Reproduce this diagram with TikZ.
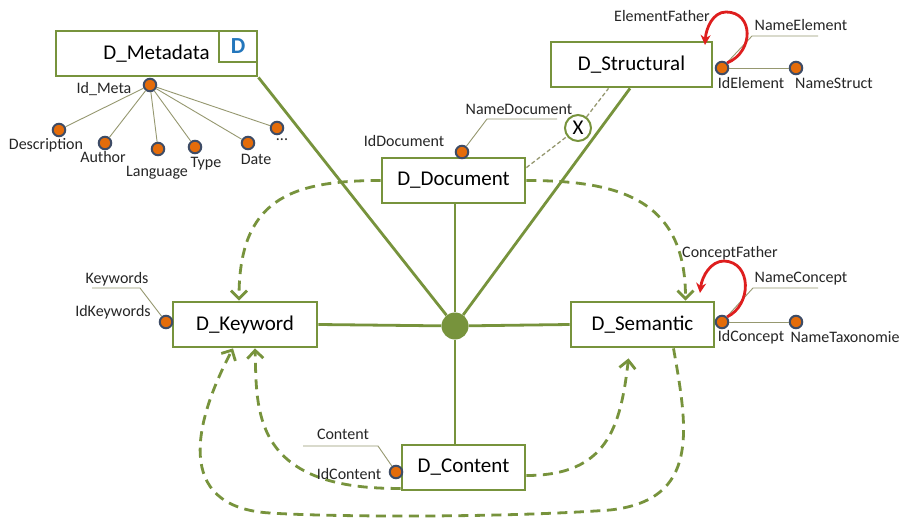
\documentclass[tikz,border=0pt]{standalone}
\usepackage{fontspec}
\setmainfont{Carlito}
\usetikzlibrary{arrows.meta,calc}
\definecolor{grn}{RGB}{119,147,60}
\definecolor{leader}{RGB}{150,152,112}
\definecolor{dotfill}{RGB}{228,108,10}
\definecolor{dotrim}{RGB}{62,76,102}
\definecolor{loopred}{RGB}{222,30,30}
\definecolor{dblue}{RGB}{35,118,188}
\tikzset{
  entity/.style={draw=grn, line width=2.8pt, fill=white, minimum height=45pt,
    inner sep=0pt, font=\fontsize{21}{24}\selectfont},
  lbl/.style={font=\fontsize{16}{18}\selectfont, inner sep=0pt, text=black!85},
  attr/.style={circle, draw=dotrim, line width=2pt, fill=dotfill,
    minimum size=12.5pt, inner sep=0pt},
  link/.style={draw=grn, line width=2.8pt},
  flow/.style={draw=grn, line width=2.8pt, dash pattern=on 10pt off 6.5pt,
    -{Straight Barb[length=8pt,width=16pt]}},
  thinlead/.style={draw=leader, line width=0.9pt},
  selfref/.style={draw=loopred, line width=2.8pt, -{Stealth[length=10pt,width=10pt]}},
}
\begin{document}
\begin{tikzpicture}[x=1pt,y=-1pt]
\fill[white] (0,0) rectangle (901,518);
\useasboundingbox (0,0) rectangle (901,518);

% entity boxes
\node[entity, minimum width=201pt] (meta) at (156.5,53.5) {D\_Metadata};
\node[draw=grn, line width=2.8pt, fill=white, minimum width=38pt, minimum height=31pt,
  inner sep=0pt, text=dblue, font=\fontsize{23}{24}\selectfont\bfseries] (dtag) at (238,46.5) {D};
\node[entity, minimum width=161pt] (struct) at (631.5,64.5) {D\_Structural};
\node[entity, minimum width=143pt] (doc) at (453.5,180.5) {D\_Document};
\node[entity, minimum width=144pt] (kw) at (245,324.5) {D\_Keyword};
\node[entity, minimum width=143pt] (sem) at (642.5,324.5) {D\_Semantic};
\node[entity, minimum width=123pt] (cont) at (463.5,467.5) {D\_Content};

% central hub and its links
\node[circle, fill=grn, minimum size=27pt, inner sep=0pt] (hub) at (455,326) {};
\draw[link] (hub) -- (hub |- doc.south);
\draw[link] (hub) -- (hub |- cont.north);
\draw[link] (hub) -- (kw.east);
\draw[link] (hub) -- (sem.west);
\draw[link] (hub) -- (meta.south east);
\draw[link] (hub) -- ($(struct.south)+(-1.5,0)$);

% dashed flows
\draw[flow] (doc.west) .. controls +(-92,0) and +(0,-100) .. ($(kw.north)+(-6,0)$);
\draw[flow] (doc.east) .. controls +(95,0) and +(0,-100) .. ($(sem.north)+(43,0)$);
\draw[flow] ($(cont.south west)+(0,-3)$) .. controls (250,490) and (257,408) .. ($(kw.south)+(10,0)$);
\draw[flow] ($(cont.east)+(0,8)$) .. controls +(80,0) and +(-8,70) .. ($(sem.south)+(-14,10)$);
\draw[flow] ($(sem.south)+(31,0)$) .. controls (688,430) and (700,500) .. (610,510)
  .. controls (500,518) and (330,517) .. (270,513)
  .. controls (172,507) and (195,420) .. ($(kw.south)+(-12,0)$);

% document / structural association
\node[circle, draw=grn, line width=2pt, fill=white, minimum size=26pt, inner sep=0pt,
  font=\fontsize{21}{22}\selectfont] (xc) at (578,128) {X};
\draw[leader, line width=1.3pt, dash pattern=on 4pt off 2.5pt]
  ($(doc.north east)+(0,11)$) -- (xc);
\draw[leader, line width=1.3pt, dash pattern=on 4pt off 2.5pt]
  (xc) -- ($(struct.south)+(-23,0)$);

% metadata attributes
\node[attr] (idmeta) at (150,85) {};
\node[attr] (adesc) at (59,130) {};
\node[attr] (aauth) at (105,143) {};
\node[attr] (alang) at (158,149) {};
\node[attr] (atype) at (195,147) {};
\node[attr] (adate) at (248,143) {};
\node[attr] (amore) at (277,128) {};
\foreach \a in {adesc,aauth,alang,atype,adate,amore}
  \draw[thinlead] (idmeta) -- (\a);
\node[lbl] at (104,89) {Id\_Meta};
\node[lbl] at (46,145) {Description};
\node[lbl] at (103,157) {Author};
\node[lbl] at (157,173) {Language};
\node[lbl] at (206,164) {Type};
\node[lbl] at (256,159) {Date};
\node[lbl, anchor=base] at (282,141) {...};

% document attributes
\node[attr] (iddoc) at (462,152) {};
\coordinate (ndA) at (487,119);
\coordinate (ndB) at (557,119);
\draw[thinlead] (iddoc) -- (ndA) -- (ndB);
\node[lbl] at (404,141) {IdDocument};
\node[lbl] at (519,109) {NameDocument};

% structural attributes
\node[attr] (idel) at (722,68) {};
\node[attr] (nstruct) at (796,68) {};
\draw[thinlead] (idel) -- (nstruct);
\coordinate (neA) at (752,36);
\coordinate (neB) at (818,36);
\draw[thinlead] (idel) -- (neA) -- (neB);
\node[lbl] at (751,83) {IdElement};
\node[lbl] at (834,83) {NameStruct};
\node[lbl] at (801,25) {NameElement};
\node[lbl] at (662,16) {ElementFather};
\coordinate (eftip) at (705,45);
\draw[selfref] (idel.north east) .. controls (754,52) and (754,12) .. (726,12)
  .. controls (713,12) and (706,28) .. (eftip);

% semantic attributes
\node[attr] (idcon) at (722,322) {};
\node[attr] (ntax) at (796,322) {};
\draw[thinlead] (idcon) -- (ntax);
\coordinate (ncA) at (753,288);
\coordinate (ncB) at (818,288);
\draw[thinlead] (idcon) -- (ncA) -- (ncB);
\node[lbl] at (751,337) {IdConcept};
\node[lbl] at (845,337) {NameTaxonomie};
\node[lbl] at (801,279) {NameConcept};
\node[lbl] at (730,253) {ConceptFather};
\coordinate (cftip) at (700,293);
\draw[selfref] (idcon.north east) .. controls (752,305) and (752,262) .. (724,261)
  .. controls (711,261) and (702,276) .. (cftip);

% keyword attributes
\node[attr] (idkw) at (166,322) {};
\coordinate (kwA) at (140,288);
\coordinate (kwB) at (92,288);
\draw[thinlead] (idkw) -- (kwA) -- (kwB);
\node[lbl] at (117,279) {Keywords};
\node[lbl] at (113,312) {IdKeywords};

% content attributes
\node[attr] (idcont) at (396,472) {};
\coordinate (ctA) at (378,446);
\coordinate (ctB) at (303,446);
\draw[thinlead] (idcont) -- (ctA) -- (ctB);
\node[lbl] at (343,434) {Content};
\node[lbl] at (349,474) {IdContent};
\end{tikzpicture}
\end{document}
